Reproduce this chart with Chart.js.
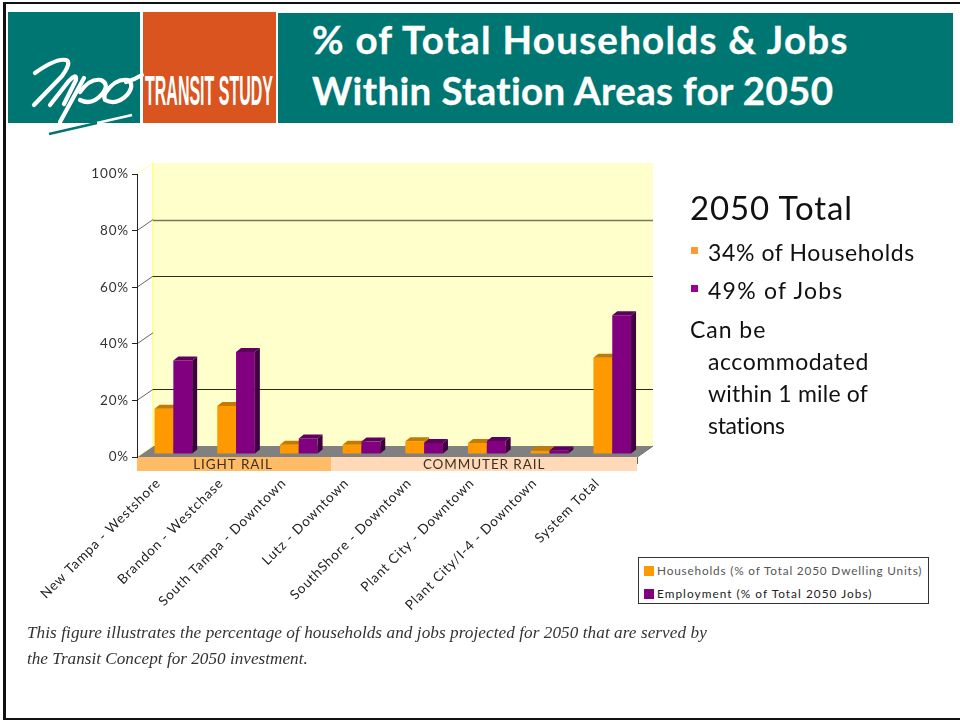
<!DOCTYPE html>
<html lang="en">
<head>
<meta charset="utf-8">
<title>% of Total Households & Jobs Within Station Areas for 2050</title>
<script src="https://cdn.jsdelivr.net/npm/chart.js@4/dist/chart.umd.min.js"></script>
<style>
    html, body { margin: 0; padding: 0; background: #fff; }
    #slide { position: relative; width: 960px; height: 721px; overflow: hidden; background: #fff; font-family: Lato, sans-serif; color: #111; }
    #slide canvas { position: absolute; left: 0; top: 0; }
    .frame { position: absolute; background: #111; }
    .block { position: absolute; }
    #logo { position: absolute; left: 0; top: 0; }
    .title { position: absolute; left: 312px; color: #fff; font-weight: 700; font-size: 38.5px; -webkit-text-stroke: 0.3px #fff; white-space: nowrap; line-height: 1; }
    .side { position: absolute; white-space: nowrap; line-height: 1; font-size: 23px; letter-spacing: 0.6px; }
    .bullet { position: absolute; left: 691px; width: 7px; height: 7px; }
    .caption { position: absolute; left: 27px; font: italic 17.2px "Liberation Serif", serif; color: #333; white-space: nowrap; line-height: 1; }
    #legend { position: absolute; left: 638px; top: 557px; width: 289px; height: 45px; border: 1px solid #333; background: #fff; box-sizing: content-box; }
    #legend div { position: absolute; left: 5px; font-size: 11.8px; white-space: nowrap; line-height: 12px; }
    #legend i { display: inline-block; width: 10px; height: 10px; margin-right: 3px; vertical-align: -1px; }
</style>
</head>
<body>
<div id="slide">
    <div class="frame" style="left:3px;top:2px;width:957px;height:2px"></div>
    <div class="frame" style="left:3px;top:2px;width:3px;height:718px"></div>
    <div class="frame" style="left:3px;top:718px;width:957px;height:2px"></div>

    <div class="block" style="left:8px;top:12px;width:132px;height:111px;background:#007673"></div>
    <div class="block" style="left:143px;top:12px;width:133px;height:111px;background:#d9541e"></div>
    <div class="block" style="left:278px;top:13px;width:675px;height:110px;background:#007673"></div>

    <!-- logo lettering -->
    <svg id="logo" width="300" height="140" viewBox="0 0 300 140">
        <g fill="none" stroke="#fff" stroke-width="4.2" stroke-linecap="round" stroke-linejoin="round">
            <path d="M35 73 Q56 58 66 60 Q72 62 62 76 L34 105"/>
            <path d="M50 105 L68 82 Q77 72 76 80 L64 104"/>
            <path d="M84 78 L60 122"/>
            <path d="M80 92 Q90 78 101 80 Q110 84 102 94 Q92 106 80 100"/>
            <path d="M106 92 Q116 78 128 80 Q135 85 127 95 Q116 106 105 100 Q103 96 106 92 M126 82 Q134 80 142 75"/>
        </g>
        <path d="M97 123 L132 115" stroke="#fff" stroke-width="2.6"/>
        <path d="M49 134 L97 123" stroke="#007673" stroke-width="2.6"/>
        <text x="145" y="105" textLength="128" lengthAdjust="spacingAndGlyphs" font-family="Liberation Sans Narrow, Liberation Sans, sans-serif" font-weight="700" font-size="42" fill="#fff">TRANSIT STUDY</text>
    </svg>

    <div class="title" style="top:20px;letter-spacing:1.25px">% of Total Households &amp; Jobs</div>
    <div class="title" style="top:71px;letter-spacing:0.35px">Within Station Areas for 2050</div>

    <canvas id="chart" width="960" height="721"></canvas>

    <div class="side" style="left:690px;top:191px;font-size:33px;letter-spacing:0.9px">2050 Total</div>
    <div class="bullet" style="top:247px;background:#ff9933"></div>
    <div class="side" style="left:708px;top:241px">34% of Households</div>
    <div class="bullet" style="top:285px;background:#990099"></div>
    <div class="side" style="left:708px;top:279px;letter-spacing:1.25px">49% of Jobs</div>
    <div class="side" style="left:690px;top:318px;letter-spacing:0.95px">Can be</div>
    <div class="side" style="left:708px;top:350px;letter-spacing:0.55px">accommodated</div>
    <div class="side" style="left:708px;top:382px;letter-spacing:0.2px">within 1 mile of</div>
    <div class="side" style="left:708px;top:414px;letter-spacing:-0.3px">stations</div>

    <div id="legend"></div>

    <div class="caption" style="top:624px;letter-spacing:0.06px">This figure illustrates the percentage of households and jobs projected for 2050 that are served by</div>
    <div class="caption" style="top:650px">the Transit Concept for 2050 investment.</div>
</div>

<script>
// ---------------------------------------------------
// DATA
// ---------------------------------------------------
const categories = [
    'New Tampa - Westshore', 'Brandon - Westchase', 'South Tampa - Downtown', 'Lutz - Downtown',
    'SouthShore - Downtown', 'Plant City - Downtown', 'Plant City/I-4 - Downtown', 'System Total'
];
const households = [16, 17, 3.3, 3.3, 4.5, 3.9, 1.2, 34];
const employment = [33, 36, 5.5, 4.4, 3.9, 4.6, 1.2, 49];
const seriesNames = ['Households (% of Total 2050 Dwelling Units)', 'Employment (% of Total 2050 Jobs)'];
const yTicks = [0, 20, 40, 60, 80, 100];
const wallLines = [20, 60, 80];
const groupNames = ['LIGHT RAIL', 'COMMUTER RAIL'];
const groupSizes = [3, 5];

// ---------------------------------------------------
// 3D LOOK
// ---------------------------------------------------
const WALL_DX = 16, WALL_DY = -11;   // back wall against the front plane
const BAR_DX = 5, BAR_DY = -3;       // where the bars stand on the floor
const FACE_DX = 5, FACE_DY = -4;     // depth of one bar
const FLOOR_TRIM = 1.6;              // floor stops a little short of the last category

const faceColors = [
    { top: '#c47a00', side: '#a86800' },
    { top: '#5f005f', side: '#3f003f' }
];
const legendStyles = [
    { color: '#555', spacing: '0.82px' },
    { color: '#222', spacing: '1.05px' }
];

function poly(ctx, pts, fill) {
    ctx.beginPath();
    pts.forEach((p, i) => i ? ctx.lineTo(p[0], p[1]) : ctx.moveTo(p[0], p[1]));
    ctx.closePath();
    ctx.fillStyle = fill;
    ctx.fill();
}

function drawFaces(ctx, bar, colors) {
    const half = bar.width / 2;
    const l = bar.x - half, r = bar.x + half, t = bar.y, b = bar.base;
    poly(ctx, [[r, t], [r + FACE_DX, t + FACE_DY], [r + FACE_DX, b + FACE_DY], [r, b]], colors.side);
    poly(ctx, [[l, t], [l + FACE_DX, t + FACE_DY], [r + FACE_DX, t + FACE_DY], [r, t]], colors.top);
}

const roomPlugin = {
    id: 'room',
    beforeDraw(chart) {
        const { ctx, chartArea: a, scales: { y } } = chart;
        const fr = a.right - FLOOR_TRIM;
        const bx = a.left + WALL_DX, rx = fr + WALL_DX, by = a.bottom + WALL_DY, ty = a.top + WALL_DY;
        ctx.save();
        // back wall and floor
        ctx.fillStyle = '#ffffcc';
        ctx.fillRect(bx, ty, rx - bx, by - ty);
        ctx.fillStyle = '#ffff99';
        ctx.fillRect(bx - 1, ty, 2, by - ty);
        poly(ctx, [[a.left, a.bottom], [bx, by], [rx, by], [fr, a.bottom]], '#808080');

        wallLines.forEach(v => {
            const py = Math.round(y.getPixelForValue(v) + WALL_DY) + 0.5;
            ctx.lineWidth = v === 80 ? 1.6 : 1;
            ctx.strokeStyle = v === 80 ? '#77775a' : '#2b2b1c';
            ctx.beginPath();
            ctx.moveTo(bx, py);
            ctx.lineTo(rx, py);
            ctx.stroke();
        });
        // ticks running up the side wall
        ctx.lineWidth = 1;
        yTicks.forEach(v => {
            const py = y.getPixelForValue(v);
            ctx.strokeStyle = (v === 0 || v === 100) ? '#ffff99' : '#666';
            ctx.beginPath();
            ctx.moveTo(a.left, py);
            ctx.lineTo(bx, py + WALL_DY);
            ctx.stroke();
        });
        // group bands under the floor
        const step = chart.scales.x.getPixelForValue(1) - chart.scales.x.getPixelForValue(0);
        const split = a.left + groupSizes[0] * step + 6;
        ctx.fillStyle = '#ffbb66';
        ctx.fillRect(a.left, a.bottom, split - a.left, 14);
        ctx.fillStyle = '#ffd9b8';
        ctx.fillRect(split, a.bottom, fr - split, 14);
        ctx.fillStyle = '#3a3226';
        ctx.font = '13.5px Lato, sans-serif';
        ctx.letterSpacing = '0.9px';
        ctx.textAlign = 'center';
        ctx.textBaseline = 'middle';
        ctx.fillText(groupNames[0], (a.left + split) / 2 - 1, a.bottom + 7.5);
        ctx.fillText(groupNames[1], (split + fr) / 2, a.bottom + 7.5);
        // little corner mark at the far end of the floor
        ctx.strokeStyle = '#666';
        ctx.beginPath();
        ctx.moveTo(fr + 0.5, a.bottom + 7);
        ctx.lineTo(fr + 0.5, a.bottom);
        ctx.lineTo(rx, by);
        ctx.stroke();
        ctx.restore();
        // spacing for the axis labels
        ctx.letterSpacing = '0.85px';
    },
    beforeDatasetsDraw(chart) {
        chart.ctx.save();
        chart.ctx.translate(BAR_DX, BAR_DY);
    },
    // purple has to land after orange, so it is held back and drawn once orange is done
    beforeDatasetDraw(chart, args) {
        if (args.index === 1) return false;
    },
    afterDatasetDraw(chart, args) {
        if (args.index !== 0) return;
        const ctx = chart.ctx;
        chart.getDatasetMeta(0).data.forEach(bar => drawFaces(ctx, bar, faceColors[0]));
        chart.getDatasetMeta(1).data.forEach(bar => {
            bar.draw(ctx);
            drawFaces(ctx, bar, faceColors[1]);
        });
    },
    afterDatasetsDraw(chart) {
        chart.ctx.restore();
    }
};

// ---------------------------------------------------
// CHART
// ---------------------------------------------------
const chart = new Chart(document.getElementById('chart'), {
    type: 'bar',
    data: {
        labels: categories,
        datasets: [
            { label: seriesNames[0], data: households, backgroundColor: '#ff9900', clip: false },
            { label: seriesNames[1], data: employment, backgroundColor: '#800080', clip: false }
        ]
    },
    options: {
        responsive: false,
        animation: false,
        layout: { padding: { left: 0, top: 174, right: 321.4, bottom: 94 } },
        datasets: { bar: { barPercentage: 1, categoryPercentage: 0.6 } },
        plugins: { legend: { display: false }, tooltip: { enabled: false } },
        scales: {
            x: {
                grid: { display: false },
                border: { display: false },
                afterFit(s) { s.height = 170; s.paddingLeft = 0; s.paddingRight = 0; },
                ticks: {
                    autoSkip: false, minRotation: 45, maxRotation: 45, padding: 10, labelOffset: -10,
                    color: '#222', font: { family: 'Lato, sans-serif', size: 13.5 }
                }
            },
            y: {
                min: 0, max: 100,
                afterFit(s) { s.width = 137; s.paddingTop = 0; s.paddingBottom = 0; },
                afterBuildTicks(s) { s.ticks = yTicks.map(v => ({ value: v })); },
                grid: { drawOnChartArea: false, color: '#222', tickLength: 5 },
                border: { display: true, color: '#222' },
                ticks: {
                    padding: 3, color: '#333',
                    font: { family: 'Lato, sans-serif', size: 13.5 },
                    callback: v => v + '%'
                }
            }
        }
    },
    plugins: [roomPlugin]
});

// legend box next to the chart, built from the datasets
const legendBox = document.getElementById('legend');
chart.data.datasets.forEach((ds, i) => {
    const row = document.createElement('div');
    row.style.top = (i === 0 ? 7 : 30) + 'px';
    row.style.color = legendStyles[i].color;
    row.style.letterSpacing = legendStyles[i].spacing;
    row.innerHTML = `<i style="background:${ds.backgroundColor}"></i>${ds.label}`;
    legendBox.appendChild(row);
});
</script>
</body>
</html>
